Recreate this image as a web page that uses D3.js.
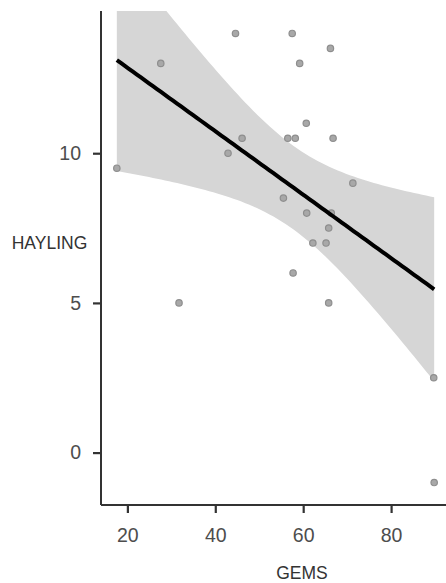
<!DOCTYPE html>
<html>
<head>
<meta charset="utf-8">
<script src="https://cdn.jsdelivr.net/npm/d3@7"></script>
<style>
  body { margin: 0; background: white; }
</style>
</head>
<body>
<script>
/* DATA */
var gems = [17.6, 27.6, 44.6, 57.5, 66.2, 59.2, 60.7, 46.1, 56.5, 58.2, 66.8, 42.9,
            71.3, 55.5, 60.8, 66.4, 65.8, 62.2, 65.2, 57.7, 31.75, 65.8, 89.7, 89.8];
var hayling = [9.5, 13, 14, 14, 13.5, 13, 11, 10.5, 10.5, 10.5, 10.5, 10,
               9, 8.5, 8, 8, 7.5, 7, 7, 6, 5, 5, 2.5, -1];
var xTicks = [20, 40, 60, 80];
var yTicks = [0, 5, 10];
var xTitle = 'GEMS';
var yTitle = 'HAYLING';

/* LAYOUT */
var width = 446;
var height = 583;
var plotLeft = 101;
var plotRight = 450;
var plotTop = 11;
var plotBottom = 505;

var axisColor = '#333333';
var tickLabelColor = '#4d4d4d';
var titleColor = '#333333';
var bandColor = '#d6d6d6';

const xScale = d3.scaleLinear()
    .domain([14.0, 93.4])
    .range([plotLeft, plotRight]);

const yScale = d3.scaleLinear()
    .domain([-1.75, 14.75])
    .range([plotBottom, plotTop]);

/* LINEAR FIT + 95% CONFIDENCE BAND (like geom_smooth(method = 'lm')) */
const n = gems.length;
const xMean = d3.mean(gems);
const yMean = d3.mean(hayling);
let sxx = 0, sxy = 0;
gems.forEach((x, i) => {
    sxx += (x - xMean) * (x - xMean);
    sxy += (x - xMean) * (hayling[i] - yMean);
});
const slope = sxy / sxx;
const intercept = yMean - slope * xMean;
let ssr = 0;
gems.forEach((x, i) => {
    const r = hayling[i] - (intercept + slope * x);
    ssr += r * r;
});
const sigma = Math.sqrt(ssr / (n - 2));
const tCrit = 2.074; // t(0.975, df = 22)

const xExtent = d3.extent(gems);
const fit = d3.range(80).map(i => {
    const x = xExtent[0] + (xExtent[1] - xExtent[0]) * i / 79;
    const yhat = intercept + slope * x;
    const se = sigma * Math.sqrt(1 / n + (x - xMean) * (x - xMean) / sxx);
    return {x: x, y: yhat, lo: yhat - tCrit * se, hi: yhat + tCrit * se};
});

/* SVG */
const svg = d3.select('body').append('svg')
    .attr('width', width)
    .attr('height', height);

svg.append('defs').append('clipPath')
    .attr('id', 'plotClip')
    .append('rect')
    .attr('x', plotLeft)
    .attr('y', plotTop)
    .attr('width', plotRight - plotLeft)
    .attr('height', plotBottom - plotTop);

const plotGroup = svg.append('g')
    .attr('clip-path', 'url(#plotClip)');

plotGroup.append('path')
    .datum(fit)
    .attr('fill', bandColor)
    .attr('d', d3.area()
        .x(d => xScale(d.x))
        .y0(d => yScale(d.lo))
        .y1(d => yScale(d.hi)));

plotGroup.selectAll('circle')
    .data(gems.map((x, i) => ({x: x, y: hayling[i]})))
    .join('circle')
    .attr('cx', d => xScale(d.x))
    .attr('cy', d => yScale(d.y))
    .attr('r', 3.2)
    .attr('fill', '#a8a8a8')
    .attr('stroke', '#8e8e8e')
    .attr('stroke-width', 1.2);

plotGroup.append('path')
    .datum(fit)
    .attr('fill', 'none')
    .attr('stroke', 'black')
    .attr('stroke-width', 4)
    .attr('d', d3.line()
        .x(d => xScale(d.x))
        .y(d => yScale(d.y)));

/* AXES */
const xAxis = svg.append('g')
    .attr('transform', `translate(0, ${plotBottom})`)
    .call(d3.axisBottom(xScale).tickValues(xTicks).tickSize(8).tickPadding(15).tickSizeOuter(0));

const yAxis = svg.append('g')
    .attr('transform', `translate(${plotLeft}, 0)`)
    .call(d3.axisLeft(yScale).tickValues(yTicks).tickSize(8).tickPadding(12).tickSizeOuter(0));

[xAxis, yAxis].forEach(ax => {
    ax.select('.domain')
        .attr('stroke', axisColor)
        .attr('stroke-width', 2);
    ax.selectAll('.tick line')
        .attr('stroke', axisColor)
        .attr('stroke-width', 2.2);
    ax.selectAll('.tick text')
        .attr('fill', tickLabelColor)
        .style('font', '19.5px "Liberation Sans", Arial, sans-serif');
});

// the y domain should span the whole panel, not just the tick range
yAxis.select('.domain').attr('d', `M0,${plotTop}V${plotBottom}`);
xAxis.select('.domain').attr('d', `M${plotLeft},0H${width}`);

/* TITLES */
svg.append('text')
    .attr('x', 302)
    .attr('y', 579)
    .attr('text-anchor', 'middle')
    .attr('fill', titleColor)
    .style('font', '17.5px "Liberation Sans", Arial, sans-serif')
    .text(xTitle);

svg.append('text')
    .attr('x', 49.5)
    .attr('y', 249)
    .attr('text-anchor', 'middle')
    .attr('fill', titleColor)
    .style('font', '17.5px "Liberation Sans", Arial, sans-serif')
    .text(yTitle);
</script>
</body>
</html>
